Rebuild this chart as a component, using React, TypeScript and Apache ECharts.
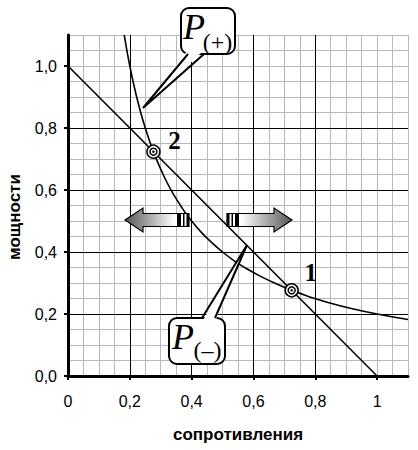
import React, { useEffect, useRef } from 'react';
import * as echarts from 'echarts';

// straight line P(-)
const lineX = [0, 1];
const lineY = [1, 0];
// curve P(+)
const curveX = [0.182, 0.19, 0.2, 0.21, 0.22, 0.235, 0.25, 0.265, 0.28, 0.3, 0.32, 0.34, 0.36, 0.38, 0.4, 0.43, 0.46, 0.5, 0.54, 0.58, 0.62, 0.67, 0.72, 0.78, 0.85, 0.92, 1.0, 1.1];
const curveY = [1.1, 1.053, 1.0, 0.952, 0.909, 0.851, 0.8, 0.755, 0.714, 0.667, 0.625, 0.588, 0.556, 0.526, 0.5, 0.465, 0.435, 0.4, 0.37, 0.345, 0.323, 0.299, 0.278, 0.256, 0.235, 0.217, 0.2, 0.182];
// intersection points
const pointX = [0.7236, 0.2764];
const pointY = [0.2764, 0.7236];
const pointNames = ['1', '2'];
// major tick values
const majorTicks = [0, 0.2, 0.4, 0.6, 0.8, 1.0];
const xAxisTitle = 'сопротивления';
const yAxisTitle = 'мощности';

const fmtX = (v: number) => {
  if (v > 1.0001) return '';
  if (Math.abs(v) < 1e-6) return '0';
  if (Math.abs(v - 1) < 1e-6) return '1';
  return v.toFixed(1).replace('.', ',');
};
const fmtY = (v: number) => (v > 1.0001 ? '' : v.toFixed(1).replace('.', ','));

const SANS = '"Liberation Sans", Arial, sans-serif';
const SERIF = '"Liberation Serif", "Times New Roman", serif';

export default function App() {
  const ref = useRef<HTMLDivElement>(null);
  useEffect(() => {
    if (!ref.current) return;
    const chart = echarts.init(ref.current, undefined, { renderer: 'svg' });
    const minorAxis = (pos: string) => ({
      type: 'value', min: 0, max: 1.1, interval: 0.05, position: pos,
      axisLine: { show: false }, axisTick: { show: false }, axisLabel: { show: false },
      splitLine: { show: true, lineStyle: { color: '#b8b8b8', width: 1 } }, z: 0,
    });
    const majorAxis = (pos: string, fmt: (v: number) => string, isX: boolean) => ({
      type: 'value', min: 0, max: 1.1, interval: 0.2, position: pos,
      axisLine: { show: true, onZero: false, lineStyle: { color: '#000', width: 3 } },
      axisTick: { show: true, length: 4, customValues: majorTicks, lineStyle: { color: '#000', width: 2 } },
      axisLabel: {
        formatter: fmt, fontSize: 16, color: '#000', fontFamily: SANS,
        margin: isX ? 17 : 11, showMaxLabel: false,
      },
      splitLine: { show: true, showMaxLine: false, lineStyle: { color: '#000', width: 1 } },
      z: 1,
    });
    const pts = pointX.map((x, i) => [x, pointY[i]]);
    const labelOffsets = [[19, -18], [21, -11]];
    chart.setOption({
      animation: false,
      backgroundColor: '#fff',
      grid: { left: 68, right: 10, top: 35, bottom: 74, containLabel: false, outerBoundsMode: 'none' },
      xAxis: [minorAxis('top'), majorAxis('bottom', fmtX, true)],
      yAxis: [minorAxis('right'), majorAxis('left', fmtY, false)],
      series: [
        {
          type: 'line', xAxisIndex: 1, yAxisIndex: 1, showSymbol: false, z: 3,
          data: lineX.map((x, i) => [x, lineY[i]]),
          lineStyle: { color: '#000', width: 1.6 },
        },
        {
          type: 'line', xAxisIndex: 1, yAxisIndex: 1, showSymbol: false, z: 3,
          smooth: 0.2,
          data: curveX.map((x, i) => [x, curveY[i]]),
          lineStyle: { color: '#000', width: 1.6 },
        },
        {
          type: 'scatter', xAxisIndex: 1, yAxisIndex: 1, z: 4, symbol: 'circle', symbolSize: 13,
          itemStyle: { color: '#fff', borderColor: '#000', borderWidth: 1.5, opacity: 1 },
          data: pts.map((p, i) => ({
            value: p,
            label: {
              show: true, position: 'inside', formatter: pointNames[i],
              offset: labelOffsets[i], color: '#000',
              fontFamily: SERIF, fontWeight: 'bold', fontSize: 25,
            },
          })),
        },
        {
          type: 'scatter', xAxisIndex: 1, yAxisIndex: 1, z: 5, symbol: 'circle', symbolSize: 7,
          itemStyle: { color: '#fff', borderColor: '#000', borderWidth: 1.5, opacity: 1 },
          data: pts,
        },
        {
          type: 'scatter', xAxisIndex: 1, yAxisIndex: 1, z: 6, symbol: 'circle', symbolSize: 2.5,
          itemStyle: { color: '#000', opacity: 1 },
          data: pts,
        },
      ],
      graphic: [
        {
          type: 'text', x: 14, y: 217, rotation: Math.PI / 2,
          style: { text: yAxisTitle, font: `bold 17px ${SANS}`, fill: '#000', textAlign: 'center', textVerticalAlign: 'middle' },
        },
        {
          type: 'text', x: 238, y: 434,
          style: { text: xAxisTitle, font: `bold 17px ${SANS}`, fill: '#000', textAlign: 'center', textVerticalAlign: 'middle' },
        },
        // left arrow
        {
          type: 'polygon', z: 10,
          shape: { points: [[125, 220], [143, 208], [143, 213.5], [189, 213.5], [189, 226.5], [143, 226.5], [143, 232]] },
          style: {
            fill: new echarts.graphic.LinearGradient(0, 0, 1, 0, [
              { offset: 0, color: '#555' }, { offset: 0.78, color: '#fff' }, { offset: 1, color: '#fff' },
            ]),
            stroke: '#000', lineWidth: 1.2,
          },
        },
        { type: 'rect', z: 11, shape: { x: 177, y: 213.5, width: 4, height: 13 }, style: { fill: '#000' } },
        { type: 'rect', z: 11, shape: { x: 183, y: 213.5, width: 1.5, height: 13 }, style: { fill: '#000' } },
        { type: 'rect', z: 11, shape: { x: 186.5, y: 213.5, width: 2.5, height: 13 }, style: { fill: '#000' } },
        // right arrow
        {
          type: 'polygon', z: 10,
          shape: { points: [[292, 220], [274, 208], [274, 213.5], [227, 213.5], [227, 226.5], [274, 226.5], [274, 232]] },
          style: {
            fill: new echarts.graphic.LinearGradient(0, 0, 1, 0, [
              { offset: 0, color: '#fff' }, { offset: 0.22, color: '#fff' }, { offset: 1, color: '#555' },
            ]),
            stroke: '#000', lineWidth: 1.2,
          },
        },
        { type: 'rect', z: 11, shape: { x: 227, y: 213.5, width: 2.5, height: 13 }, style: { fill: '#000' } },
        { type: 'rect', z: 11, shape: { x: 231.5, y: 213.5, width: 1.5, height: 13 }, style: { fill: '#000' } },
        { type: 'rect', z: 11, shape: { x: 235, y: 213.5, width: 4, height: 13 }, style: { fill: '#000' } },
        // callout P(+)
        { type: 'rect', z: 20, shape: { x: 181, y: 8, width: 54, height: 46, r: 8 }, style: { fill: '#fff', stroke: '#000', lineWidth: 2 } },
        { type: 'polygon', z: 21, shape: { points: [[188, 50], [143, 108], [204, 50]] }, style: { fill: '#fff' } },
        { type: 'polyline', z: 22, shape: { points: [[188, 54], [143, 108], [204, 54]] }, style: { stroke: '#000', lineWidth: 2, fill: 'none' } },
        { type: 'text', z: 23, x: 183, y: 27, style: { text: 'P', font: `italic 36px ${SERIF}`, fill: '#000', textAlign: 'left', textVerticalAlign: 'middle' } },
        { type: 'text', z: 23, x: 217.5, y: 42, style: { text: '(+)', font: `24px ${SERIF}`, fill: '#000', textAlign: 'center', textVerticalAlign: 'middle' } },
        // callout P(-)
        { type: 'rect', z: 20, shape: { x: 169, y: 318, width: 56, height: 46, r: 8 }, style: { fill: '#fff', stroke: '#000', lineWidth: 2 } },
        { type: 'polygon', z: 21, shape: { points: [[202, 322], [247, 245], [215, 322]] }, style: { fill: '#fff' } },
        { type: 'polyline', z: 22, shape: { points: [[202, 318], [247, 245], [215, 318]] }, style: { stroke: '#000', lineWidth: 2, fill: 'none' } },
        { type: 'text', z: 23, x: 172, y: 337, style: { text: 'P', font: `italic 36px ${SERIF}`, fill: '#000', textAlign: 'left', textVerticalAlign: 'middle' } },
        { type: 'text', z: 23, x: 207.5, y: 350, style: { text: '(–)', font: `24px ${SERIF}`, fill: '#000', textAlign: 'center', textVerticalAlign: 'middle' } },
      ],
    });
    return () => chart.dispose();
  }, []);
  return <div ref={ref} style={{ position: 'fixed', left: 0, top: 0, width: 418, height: 450 }} />;
}
